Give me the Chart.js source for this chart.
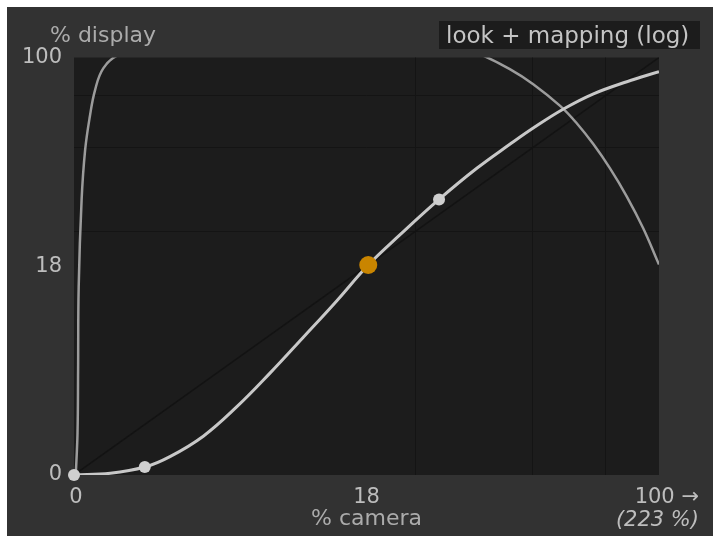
<!DOCTYPE html>
<html>
<head>
<meta charset="utf-8">
<script src="https://cdn.jsdelivr.net/npm/chart.js@4"></script>
<style>
  html, body { margin: 0; padding: 0; background: #ffffff; }
  #wrap { position: absolute; left: 7px; top: 7px; width: 706px; height: 529px; }
  #graph { background: #323232; }
</style>
</head>
<body>
<div id="wrap"><canvas id="graph" width="706" height="529"></canvas></div>
<script>
// positions are in % of the (log-encoded) axis, 0 = left/bottom, 100 = right/top
var mainX = [0, 6.2, 12.1, 16.4, 22.1, 27.8, 33.5, 39.2, 44.9, 50.3, 55.7, 62.4, 68.8, 74.5, 78.5, 83.6, 88.8, 94.5, 100];
var mainY = [0, 0.4, 1.9, 4.4, 9.3, 16.3, 24.4, 33.0, 41.7, 50.3, 57.5, 66.0, 73.4, 79.2, 83.1, 87.6, 91.3, 94.2, 96.6];

var lookX = [0.3, 0.6, 0.7, 0.8, 1.3, 1.9, 2.7, 3.6, 5.0, 7.6, 20, 40, 60, 69.7, 74.5, 78.5, 83.1, 85.9, 88.8, 91.6, 94.5, 97.3, 100];
var lookY = [0, 10, 25, 45, 65.9, 77.8, 85.8, 92.2, 97.4, 100.6, 106, 109, 106, 100.6, 97.2, 93.6, 88.4, 84.3, 79.2, 73.5, 66.7, 59.1, 50.4];

var diagX = [0, 100];
var diagY = [0, 100];

var nodeX = [0, 12.1, 62.4];
var nodeY = [0, 1.9, 66.0];
var greyX = [50.3];
var greyY = [50.3];

var yTickPos = [0, 50, 100];
var yTickLabels = ['0', '18', '100'];
var xTickPos = [0, 50, 100];
var xTickLabels = ['0', '18', '100 \u2192'];
var gridPos = [58.4, 78.4, 90.85];

function pts(xs, ys) {
  return xs.map(function (x, i) { return { x: x, y: ys[i] }; });
}

var FONT = 'DejaVu Sans';

var framePlugin = {
  id: 'frame',
  beforeDraw: function (chart) {
    var a = chart.chartArea, ctx = chart.ctx;
    ctx.save();
    ctx.fillStyle = '#1c1c1c';
    ctx.fillRect(a.left, a.top, a.right - a.left, a.bottom - a.top);
    ctx.restore();
  },
  afterDraw: function (chart) {
    var ctx = chart.ctx, xs = chart.scales.x;
    ctx.save();
    ctx.fillStyle = '#bdbdbd';
    ctx.font = '21px "' + FONT + '"';
    ctx.textBaseline = 'alphabetic';
    ctx.textAlign = 'center';
    ctx.fillText(xTickLabels[0], xs.getPixelForValue(xTickPos[0]) + 2, 496);
    ctx.fillText(xTickLabels[1], xs.getPixelForValue(xTickPos[1]), 496);
    ctx.textAlign = 'right';
    ctx.fillText(xTickLabels[2], 692, 496);
    ctx.font = 'italic 21px "' + FONT + '"';
    ctx.fillText('(223 %)', 692, 519);

    ctx.fillStyle = '#ababab';
    ctx.font = '22px "' + FONT + '"';
    ctx.textAlign = 'center';
    ctx.fillText('% camera', xs.getPixelForValue(50), 518);
    ctx.textAlign = 'left';
    ctx.fillText('% display', 43, 35);

    // header box at top right
    ctx.fillStyle = '#1c1c1c';
    ctx.fillRect(432, 14, 261, 28);
    ctx.fillStyle = '#c4c4c4';
    ctx.font = '23px "' + FONT + '"';
    ctx.fillText('look + mapping (log)', 439, 36);
    ctx.restore();
  }
};

var ctx = document.getElementById('graph');
var myChart = new Chart(ctx, {
  type: 'scatter',
  data: {
    datasets: [{
      label: 'grey',
      data: pts(greyX, greyY),
      pointRadius: 9,
      pointBackgroundColor: '#c98500',
      pointBorderWidth: 0,
      showLine: false,
      clip: false
    }, {
      label: 'nodes',
      data: pts(nodeX, nodeY),
      pointRadius: 6,
      pointBackgroundColor: '#cfcfcf',
      pointBorderWidth: 0,
      showLine: false,
      clip: false
    }, {
      label: 'mapping',
      data: pts(mainX, mainY),
      showLine: true,
      borderColor: '#c8c8c8',
      borderWidth: 3,
      pointRadius: 0,
      tension: 0.4
    }, {
      label: 'look',
      data: pts(lookX, lookY),
      showLine: true,
      borderColor: '#9c9c9c',
      borderWidth: 2.5,
      pointRadius: 0,
      tension: 0.4
    }, {
      label: 'identity',
      data: pts(diagX, diagY),
      showLine: true,
      borderColor: '#131313',
      borderWidth: 1.5,
      pointRadius: 0
    }]
  },
  options: {
    responsive: false,
    animation: false,
    events: [],
    layout: { padding: { top: 50.5, right: 54, left: 0, bottom: 0 } },
    plugins: { legend: { display: false }, tooltip: { enabled: false } },
    scales: {
      x: {
        type: 'linear', min: 0, max: 100,
        afterBuildTicks: function (s) { s.ticks = gridPos.map(function (v) { return { value: v }; }); },
        ticks: { display: false },
        grid: { color: '#141414', lineWidth: 1, drawTicks: false },
        border: { display: false },
        afterFit: function (s) { s.height = 61; }
      },
      y: {
        type: 'linear', min: 0, max: 100,
        afterBuildTicks: function (s) { s.ticks = yTickPos.map(function (v) { return { value: v }; }); },
        ticks: {
          color: '#bdbdbd',
          font: { family: FONT, size: 21 },
          padding: 12,
          callback: function (v) { return yTickLabels[yTickPos.indexOf(v)]; }
        },
        grid: { display: false, drawTicks: false },
        border: { display: false },
        afterFit: function (s) { s.width = 67; }
      },
      yg: {
        type: 'linear', min: 0, max: 100, position: 'left',
        afterBuildTicks: function (s) { s.ticks = gridPos.map(function (v) { return { value: v }; }); },
        ticks: { display: false },
        grid: { color: '#141414', lineWidth: 1, drawTicks: false },
        border: { display: false },
        afterFit: function (s) { s.width = 0; }
      }
    }
  },
  plugins: [framePlugin]
});
</script>
</body>
</html>
